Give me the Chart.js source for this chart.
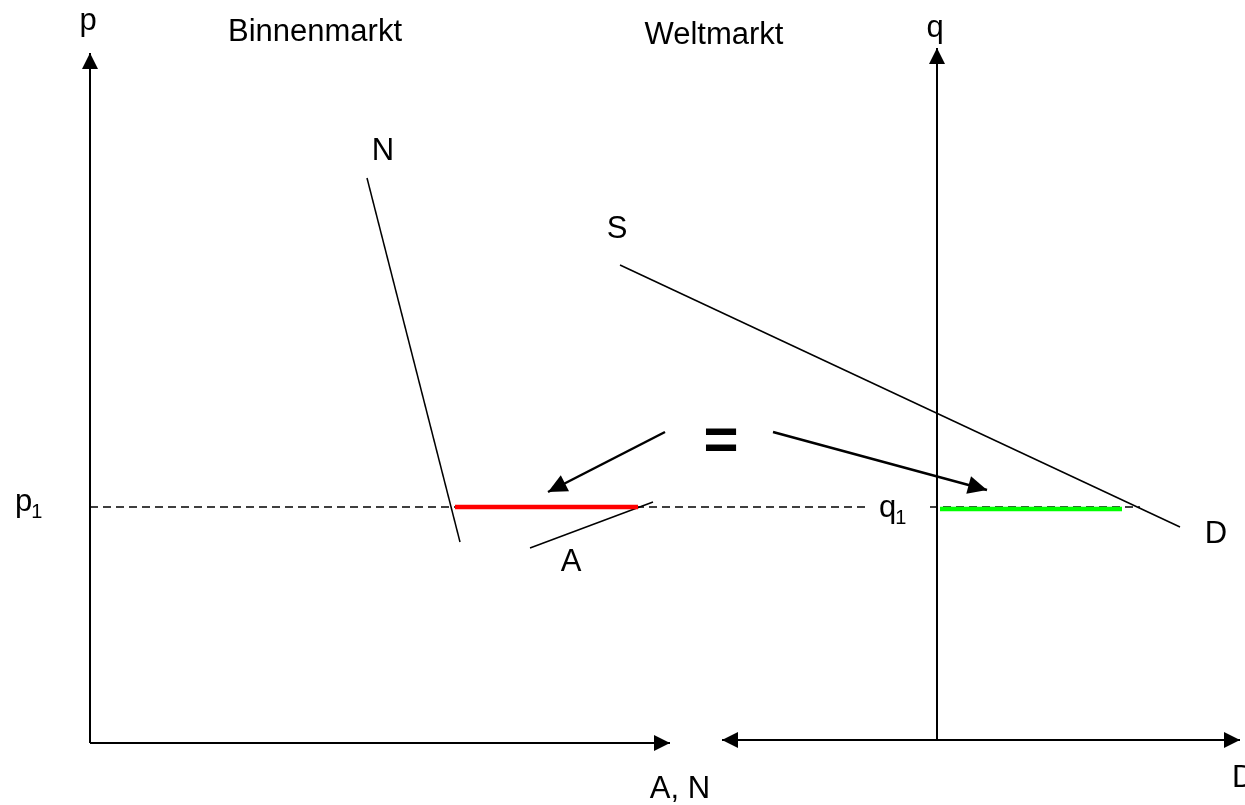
<!DOCTYPE html>
<html>
<head>
<meta charset="utf-8">
<script src="https://cdn.jsdelivr.net/npm/chart.js@4.4.0/dist/chart.umd.min.js"></script>
<style>
	body { margin: 0; background: #ffffff; }
	#wrap { width: 1245px; height: 805px; }
</style>
</head>
<body>
<div id="wrap"><canvas id="myChart"></canvas></div>
<script>
"use strict";

// Diagram units: the origin is the corner of the Binnenmarkt axes, both axes use the same unit size
// Axes
const pAxis = [{ x: 0, y: 0 }, { x: 0, y: 69.0 }];
const anAxis = [{ x: 0, y: 0 }, { x: 58.0, y: 0 }];
const dAxis = [{ x: 63.2, y: 0.3 }, { x: 115.0, y: 0.3 }];
const qAxis = [{ x: 84.7, y: 0.3 }, { x: 84.7, y: 69.5 }];

// Curves
const nachfrageN = [{ x: 27.7, y: 56.5 }, { x: 37.0, y: 20.1 }];
const angebotA = [{ x: 44.0, y: 19.5 }, { x: 56.3, y: 24.1 }];
const kurveS = [{ x: 53.0, y: 47.8 }, { x: 109.0, y: 21.6 }];

// Price level p1 / q1
const p1Level = [{ x: 0, y: 23.6 }, { x: 77.5, y: 23.6 }];
const q1Level = [{ x: 84.0, y: 23.6 }, { x: 105.0, y: 23.6 }];
const importGap = [{ x: 36.5, y: 23.6 }, { x: 54.8, y: 23.6 }];
const worldGap = [{ x: 85.0, y: 23.4 }, { x: 103.2, y: 23.4 }];

// The two arrows next to "="
const arrowLeft = [{ x: 57.5, y: 31.1 }, { x: 45.8, y: 25.1 }];
const arrowRight = [{ x: 68.3, y: 31.1 }, { x: 89.7, y: 25.3 }];

// Labels
const labels = [
	{ text: "p", x: -0.2, y: 71.3 },
	{ text: "Binnenmarkt", x: 22.5, y: 70.2 },
	{ text: "Weltmarkt", x: 62.4, y: 69.9 },
	{ text: "q", x: 84.5, y: 70.6 },
	{ text: "N", x: 29.3, y: 58.3 },
	{ text: "S", x: 52.7, y: 50.5 },
	{ text: "A", x: 48.1, y: 17.2 },
	{ text: "D", x: 112.6, y: 20.0 },
	{ text: "A, N", x: 59.0, y: -5.5 },
	{ text: "D", x: 114.2, y: -4.4, align: "left" },
	{ text: "p", sub: "1", x: -7.5, y: 23.2, align: "left" },
	{ text: "q", sub: "1", x: 78.9, y: 22.6, align: "left" },
	{ text: "=", x: 63.1, y: 30.1, bold: true },
];

function line(data, width, extra) {
	return Object.assign({
		data: data,
		showLine: true,
		borderColor: "#000000",
		borderWidth: width,
		pointRadius: 0,
		fill: false,
		tension: 0,
	}, extra || {});
}

// Draws arrow heads and the text labels through the chart scales
const diagramPlugin = {
	id: "diagram",
	afterDatasetsDraw(chart) {
		const ctx = chart.ctx;
		const xs = chart.scales.x;
		const ys = chart.scales.y;

		chart.data.datasets.forEach(function (ds, i) {
			if (!ds.arrow) return;
			const pts = chart.getDatasetMeta(i).data;
			const n = pts.length;
			drawHead(ctx, pts[n - 1], pts[n - 2], ds.headLen, ds.headHalf);
			if (ds.arrow === "both") drawHead(ctx, pts[0], pts[1], ds.headLen, ds.headHalf);
		});

		ctx.save();
		ctx.fillStyle = "#000000";
		labels.forEach(function (l) {
			const px = xs.getPixelForValue(l.x);
			const py = ys.getPixelForValue(l.y);
			if (l.bold) {
				ctx.font = "bold 60px 'Liberation Sans', Arial, sans-serif";
				ctx.textBaseline = "middle";
			} else {
				ctx.font = "31px 'Liberation Sans', Arial, sans-serif";
				ctx.textBaseline = "alphabetic";
			}
			ctx.textAlign = l.align || "center";
			ctx.fillText(l.text, px, py);
			if (l.sub) {
				const w = ctx.measureText(l.text).width;
				ctx.font = "20px 'Liberation Sans', Arial, sans-serif";
				ctx.fillText(l.sub, px + w - 1, py + 7);
			}
		});
		ctx.restore();
	},
};

function drawHead(ctx, tip, from, len, half) {
	const a = Math.atan2(tip.y - from.y, tip.x - from.x);
	ctx.save();
	ctx.translate(tip.x, tip.y);
	ctx.rotate(a);
	ctx.beginPath();
	ctx.moveTo(0, 0);
	ctx.lineTo(-len, -half);
	ctx.lineTo(-len, half);
	ctx.closePath();
	ctx.fillStyle = "#000000";
	ctx.fill();
	ctx.restore();
}

// Chart.js paints the first dataset last, so the coloured segments come first to lie on top of the dashes
new Chart(document.getElementById("myChart"), {
	type: "scatter",
	data: {
		datasets: [
			line(importGap, 4.5, { borderColor: "#ff0000" }),
			line(worldGap, 4.5, { borderColor: "#00ff00" }),
			line(pAxis, 2, { arrow: "end", headLen: 16, headHalf: 8 }),
			line(anAxis, 2, { arrow: "end", headLen: 16, headHalf: 8 }),
			line(dAxis, 2, { arrow: "both", headLen: 16, headHalf: 8 }),
			line(qAxis, 2, { arrow: "end", headLen: 16, headHalf: 8 }),
			line(nachfrageN, 1.5),
			line(angebotA, 1.5),
			line(kurveS, 1.5),
			line(arrowLeft, 2.5, { arrow: "end", headLen: 19, headHalf: 9 }),
			line(arrowRight, 2.5, { arrow: "end", headLen: 19, headHalf: 9 }),
			line(p1Level, 1.5, { borderDash: [8, 5] }),
			line(q1Level, 1.5, { borderDash: [8, 5] }),
		],
	},
	options: {
		responsive: true,
		maintainAspectRatio: false,
		animation: false,
		events: [],
		layout: { padding: 0 },
		scales: {
			x: { type: "linear", display: false, min: -9, max: 115.5 },
			y: { type: "linear", display: false, min: -6.2, max: 74.3 },
		},
		plugins: {
			legend: { display: false },
			tooltip: { enabled: false },
		},
	},
	plugins: [diagramPlugin],
});
</script>
</body>
</html>
